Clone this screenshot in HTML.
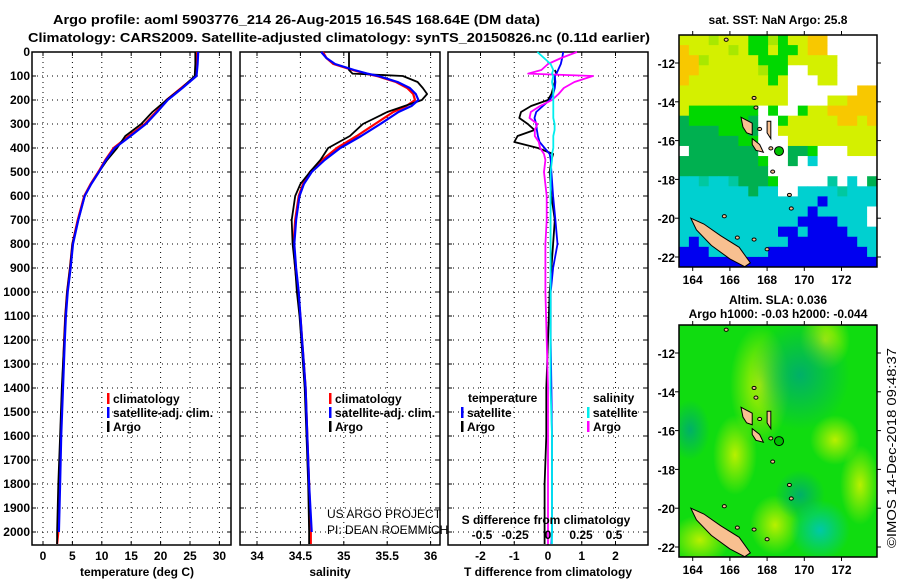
<!DOCTYPE html>
<html><head><meta charset="utf-8">
<style>
html,body{margin:0;padding:0;background:#fff;}
svg{display:block;font-family:"Liberation Sans",sans-serif;}
.b{font-weight:bold;font-size:13px;}
.lab{font-weight:bold;font-size:12px;}
</style></head>
<body>
<svg id="chart" width="900" height="580" viewBox="0 0 900 580" xmlns="http://www.w3.org/2000/svg">
<text class="b" x="53" y="24" textLength="487" lengthAdjust="spacingAndGlyphs">Argo profile: aoml 5903776_214 26-Aug-2015 16.54S 168.64E (DM data)</text>
<text class="b" x="28" y="42" textLength="622" lengthAdjust="spacingAndGlyphs">Climatology: CARS2009. Satellite-adjusted climatology: synTS_20150826.nc (0.11d earlier)</text>
<g id="panels"></g>
<g id="maps"></g>
<text class="b" x="0" y="0" transform="translate(896,548) rotate(-90)" textLength="200" lengthAdjust="spacingAndGlyphs" style="font-weight:normal">©IMOS 14-Dec-2018 09:48:37</text>
</svg>
<script>
// ---- data ----
const tDepths = [0,50,100,150,200,250,300,350,400,450,500,550,600,700,800,900,1000,1100,1200,1400,1600,1800,2000,2050];
const tempClim = [26.2,26.1,26.0,23.5,21.0,19.2,17.3,14.6,12.0,10.6,9.4,8.1,7.0,5.9,5.0,4.6,4.1,3.8,3.6,3.3,3.0,2.8,2.6,2.4];
const tempSat  = [26.4,26.3,26.1,23.7,21.2,19.4,17.5,14.9,12.2,10.7,9.5,8.2,7.1,6.0,5.1,4.7,4.2,3.9,3.7,3.4,3.1,2.9,2.7,2.7];
const tempArgo = [25.9,25.9,25.8,23.6,21.0,18.6,16.7,14.0,12.6,10.9,9.5,8.2,7.1,6.0,5.0,4.6,4.1,3.8,3.6,3.2,2.9,2.6,2.4,2.4];
const sDepths = [0,25,50,75,90,100,125,150,175,200,225,250,300,350,400,450,500,550,600,700,800,900,1000,1100,1200,1400,1600,1800,2000,2050];
const salClim = [34.76,34.8,34.88,35.1,35.25,35.38,35.6,35.73,35.8,35.82,35.72,35.57,35.36,35.15,34.92,34.75,34.61,34.53,34.48,34.44,34.42,34.44,34.47,34.5,34.52,34.56,34.58,34.6,34.62,34.62];
const salSat  = [34.74,34.8,34.9,35.12,35.27,35.4,35.62,35.76,35.83,35.86,35.78,35.63,35.42,35.2,34.96,34.78,34.63,34.54,34.49,34.45,34.43,34.45,34.48,34.5,34.52,34.56,34.58,34.6,34.63,34.63];
const salArgo = [35.06,35.06,35.06,35.06,35.1,35.68,35.85,35.91,35.96,35.9,35.7,35.5,35.22,35.07,34.82,34.73,34.61,34.5,34.44,34.4,34.41,34.44,34.46,34.49,34.51,34.55,34.57,34.59,34.6,34.6];
const dDepths = [0,25,50,75,90,100,125,150,175,200,225,250,275,300,325,350,375,400,425,450,500,600,700,800,900,1000,1200,1400,1600,1800,2000,2050];
const dTArgo = [0.1,0.15,0.15,0.2,0.25,0.2,0.2,0.15,0.1,0,-0.5,-0.8,-0.85,-0.6,-0.4,-0.9,-1.0,-0.3,0.15,0.1,0.05,0.1,0.2,0.15,0.1,0.05,0,-0.05,-0.05,-0.1,-0.1,-0.1];
const dTSat  = [0.45,0.42,0.38,0.3,0.25,0.2,0.22,0.2,0.15,0.05,-0.15,-0.35,-0.4,-0.35,-0.33,-0.3,-0.25,-0.1,0.05,0.08,0.1,0.15,0.22,0.28,0.15,0.08,0.08,0.1,0.12,0.12,0.12,0.1];
const dSArgo = [0.22,0.1,0.0,-0.05,-0.15,0.34,0.2,0.12,0.08,0.03,-0.06,-0.13,-0.14,-0.08,-0.1,-0.1,-0.07,-0.06,-0.03,-0.02,-0.03,-0.01,-0.01,-0.02,-0.02,-0.02,-0.01,0,0,0,0,0];
const dSSat  = [-0.08,-0.03,0.02,0.04,0.03,0.04,0.03,0.04,0.04,0.04,0.04,0.04,0.04,0.05,0.05,0.04,0.04,0.04,0.03,0.03,0.02,0.02,0.02,0.02,0.02,0.02,0.02,0.02,0.03,0.03,0.03,0.03];
const depthTicks = [0,100,200,300,400,500,600,700,800,900,1000,1100,1200,1300,1400,1500,1600,1700,1800,1900,2000];
const tempTicks = [0,5,10,15,20,25,30];
const salTicks = [34,34.5,35,35.5,36];
const dTTicks = [-2,-1,0,1,2];
const dSTicks = [-0.5,-0.25,0,0.25,0.5];
const dSTickLabels = ["-0.5","-0.25","0","0.25","0.5"];

const NS="http://www.w3.org/2000/svg";
const Y0=52, Y1=545;
const yD = d => Y0 + d*0.24;
const xT = t => 43 + t*5.88;
const xS = s => 257 + (s-34)*86.8;
const xDT = v => 548 + v*33.75;
const xDS = v => 548 + v*132;
const panels=document.getElementById('panels');
function el(tag,attrs,parent,text){const e=document.createElementNS(NS,tag);for(const k in attrs)e.setAttribute(k,attrs[k]);if(text!==undefined)e.textContent=text;(parent||panels).appendChild(e);return e;}

function panel(name,x0,x1,xTicksArr,xf,labels){
  const g=el('g',{});
  
  
  depthTicks.forEach(d=>{ if(d>0) el('line',{x1:x0,x2:x1,y1:yD(d),y2:yD(d),stroke:'#000','stroke-width':1,'stroke-dasharray':'1,4'},g);
    el('line',{x1:x0,x2:x0+4,y1:yD(d),y2:yD(d),stroke:'#000'},g); el('line',{x1:x1-4,x2:x1,y1:yD(d),y2:yD(d),stroke:'#000'},g);});
  xTicksArr.forEach((t,i)=>{const x=xf(t);
    el('line',{x1:x,x2:x,y1:Y0,y2:Y1,stroke:'#000','stroke-width':1,'stroke-dasharray':'1,4'},g);
    el('line',{x1:x,x2:x,y1:Y0,y2:Y0+4,stroke:'#000'},g);el('line',{x1:x,x2:x,y1:Y1-4,y2:Y1,stroke:'#000'},g);
    const tx=el('text',{x:x,y:560,'text-anchor':'middle',class:'lab'},g,labels?labels[i]:String(t));
    
    
  });
  el('rect',{x:x0,y:Y0,width:x1-x0,height:Y1-Y0,fill:'none',stroke:'#000','stroke-width':1.5},g);
  return g;
}
function line(g,name,xs,ds,xf,color,w){
  const pts=xs.map((v,i)=>xf(v).toFixed(1)+','+yD(ds[i]).toFixed(1)).join(' ');
  const p=el('polyline',{points:pts,fill:'none',stroke:color,'stroke-width':w||2.2,'stroke-linejoin':'round'},g);
  
  
}
function txt(g,name,x,y,s,opts){const t=el('text',Object.assign({x:x,y:y,class:'lab'},opts||{}),g,s);
  
  return t;}
function leg(g,x,y,color,label,name){el('rect',{x:x,y:y-10,width:2.5,height:11,fill:color},g);txt(g,name,x+6,y,label);}

const ya=el('g',{});


depthTicks.forEach(d=>{txt(ya,'depth-tick-label',30,yD(d)+4,String(d),{'text-anchor':'end'});});

const p1=panel('temperature-panel',32,231,tempTicks,xT);
line(p1,'temp-climatology-line',tempClim,tDepths,xT,'#f00');
line(p1,'temp-argo-line',tempArgo,tDepths,xT,'#000',1.8);
line(p1,'temp-satellite-line',tempSat.slice(0,23),tDepths.slice(0,23),xT,'#00f');
txt(p1,'temperature-axis-title',137,576,'temperature (deg C)',{'text-anchor':'middle'});
leg(p1,107,403,'#f00','climatology','legend-climatology');
leg(p1,107,417,'#00f','satellite-adj. clim.','legend-satellite');
leg(p1,107,431,'#000','Argo','legend-argo');

const p2=panel('salinity-panel',240,440,salTicks,xS);
line(p2,'sal-climatology-line',salClim,sDepths,xS,'#f00');
line(p2,'sal-argo-line',salArgo,sDepths,xS,'#000',1.8);
line(p2,'sal-satellite-line',salSat.slice(0,29),sDepths.slice(0,29),xS,'#00f');
txt(p2,'salinity-axis-title',330,576,'salinity',{'text-anchor':'middle'});
leg(p2,329,403,'#f00','climatology','legend-climatology');
leg(p2,329,417,'#00f','satellite-adj. clim.','legend-satellite');
leg(p2,329,431,'#000','Argo','legend-argo');
txt(p2,'project-credit',327,518,'US ARGO PROJECT',{style:'font-weight:normal;font-size:12px'});
txt(p2,'pi-credit',327,534,'PI: DEAN ROEMMICH',{style:'font-weight:normal;font-size:12px'});

const p3=panel('difference-panel',448,648,dTTicks,xDT);
line(p3,'dT-argo-line',dTArgo.slice(3),dDepths.slice(3),xDT,'#000',1.8);
line(p3,'dT-satellite-line',dTSat,dDepths,xDT,'#00f',1.8);
line(p3,'dS-argo-line',dSArgo,dDepths,xDS,'#f0f',1.8);
line(p3,'dS-satellite-line',dSSat,dDepths,xDS,'#0ee',1.8);
txt(p3,'T-difference-axis-title',548,576,'T difference from climatology',{'text-anchor':'middle'});
txt(p3,'S-difference-title',546,524,'S difference from climatology',{'text-anchor':'middle'});
dSTicks.forEach((v,i)=>txt(p3,'s-tick-label',xDS(v),539,dSTickLabels[i],{'text-anchor':'middle'}));
txt(p3,'legend-temperature-head',468,402,'temperature');
leg(p3,461,417,'#00f','satellite','legend-t-satellite');
leg(p3,461,431,'#000','Argo','legend-t-argo');
txt(p3,'legend-salinity-head',593,402,'salinity');
leg(p3,587,417,'#0ee','satellite','legend-s-satellite');
leg(p3,587,431,'#f0f','Argo','legend-s-argo');

// ---- maps ----
const maps=document.getElementById('maps');
const MX0=679,MX1=877;
const lonX = lon => 692.7+(lon-164)*18.6;
function latY(top){return lat=> top + 28 + (-12-lat)*19.4;}
const colors={y:'#d4f000',o:'#f8c800',g:'#00d800',d:'#00b050',c:'#00d0d0',t:'#00c8a0',b:'#0000f0',w:'#ffffff',m:'#a8e800'};
const sstRows=[
"yyymyyyggmgyyoowwwww",
"oyyyymyggyggyoowwwww",
"oomyyyyygggyyyyywwww",
"ooyyyyyymggwwyyywwww",
"oyyyyyyyygywwwyywwww",
"yyyyyyyyyyywwwwwwwoo",
"yyyyyyyyyyywwwwyyooo",
"ygggggggwgwwgyyooooo",
"dggggggdwwgyyyyyooyo",
"ddddgggdwwyyyyyyyyyy",
"ddddddggwwwyyyyyyyyy",
"wdddddddwwwddgwwwyyy",
"ddddddddgwwdwcwwwwww",
"dddddddddwwwwwwwwwww",
"cctcctdddgwwwwwtwcwd",
"cccccccdccwwcccctccc",
"ccccccccccccccbccccc",
"cccccccccccccbcccccw",
"ccccccccccccbbbbcccw",
"ccccccccccbbcbbbbccc",
"cbcccccccccbbbbbbbcc",
"bbbccccccbbbbbbbbbbc",
"bbbbbbbbbbbbbbbbbbbb"];
function drawMap(name,top,fillFn,titles){
  const g=el('g',{},maps);
  
  
  const H=232;
  const cp=el('clipPath',{id:name+'-clip'},g);el('rect',{x:MX0,y:top,width:MX1-MX0,height:H},cp);
  const inner=el('g',{'clip-path':'url(#'+name+'-clip)'},g);
  fillFn(inner,top,H);
  const ly=latY(top);
  const land={fill:'#f8c090',stroke:'#000','stroke-width':1};
  el('polygon',Object.assign({points:[[163.9,-20.0],[164.6,-20.3],[165.5,-20.9],[166.5,-21.5],[167.1,-22.3],[166.8,-22.5],[166.0,-22.1],[165.0,-21.4],[164.2,-20.6]].map(p=>lonX(p[0])+','+ly(p[1])).join(' ')},land),inner);
  el('polygon',Object.assign({points:[[166.6,-14.8],[167.2,-15.1],[167.2,-15.7],[166.9,-15.6],[166.7,-15.3]].map(p=>lonX(p[0])+','+ly(p[1])).join(' ')},land),inner);
  el('polygon',Object.assign({points:[[167.2,-15.9],[167.6,-16.2],[167.8,-16.6],[167.4,-16.5],[167.2,-16.2]].map(p=>lonX(p[0])+','+ly(p[1])).join(' ')},land),inner);
  el('polygon',Object.assign({points:[[168.0,-15.0],[168.2,-15.0],[168.2,-15.9],[168.0,-15.6]].map(p=>lonX(p[0])+','+ly(p[1])).join(' ')},land),inner);
  [[168.2,-16.4],[168.3,-17.6],[169.2,-18.8],[169.3,-19.5],[167.3,-21.1],[168.0,-21.6],[167.6,-15.4],[166.4,-21.0],[165.7,-19.9],[167.4,-14.3],[167.3,-13.8],[165.8,-10.8]].forEach(p=>{
    el('ellipse',Object.assign({cx:lonX(p[0]),cy:ly(p[1]),rx:2,ry:1.6,'stroke-width':0.8},land),inner);});
  el('circle',{cx:lonX(168.64),cy:ly(-16.54),r:4.5,fill:'#00c000',stroke:'#000','stroke-width':1},inner);
  el('rect',{x:MX0,y:top,width:MX1-MX0,height:H,fill:'none',stroke:'#000','stroke-width':1.5},g);
  [164,166,168,170,172].forEach(l=>{const x=lonX(l);
    el('line',{x1:x,x2:x,y1:top,y2:top-4,stroke:'#000'},g);el('line',{x1:x,x2:x,y1:top+H,y2:top+H+4,stroke:'#000'},g);
    txt(g,'lon-tick-label',x,top+H+17,String(l),{'text-anchor':'middle'});});
  [-12,-14,-16,-18,-20,-22].forEach(l=>{const y=ly(l);
    el('line',{x1:MX0,x2:MX0-4,y1:y,y2:y,stroke:'#000'},g);el('line',{x1:MX1,x2:MX1+4,y1:y,y2:y,stroke:'#000'},g);
    txt(g,'lat-tick-label',675,y+5,String(l),{'text-anchor':'end'});});
  titles.forEach(t=>txt(g,'map-title',778,t[1],t[0],{'text-anchor':'middle'}));
}
drawMap('sst-map',35,(g,top,H)=>{
  const cw=(MX1-MX0)/20,ch=H/sstRows.length;
  sstRows.forEach((r,i)=>{for(let j=0;j<20;j++){el('rect',{x:MX0+j*cw,y:top+i*ch,width:cw+0.5,height:ch+0.5,fill:colors[r[j]]},g);}});
},[['sat. SST: NaN Argo: 25.8',24]]);
drawMap('sla-map',325,(g,top,H)=>{
  const defs=el('defs',{},g);
  const mk=(id,c)=>{const rg=el('radialGradient',{id:id},defs);el('stop',{offset:'0','stop-color':c,'stop-opacity':1},rg);el('stop',{offset:'1','stop-color':c,'stop-opacity':0},rg);};
  mk('gy','#b8f000');mk('gd','#00b068');mk('gc','#00c8a8');
  el('rect',{x:MX0,y:top,width:MX1-MX0,height:H,fill:'#10dc10'},g);
  [['gy',760,top+60,30,60],['gy',735,top+130,22,40],['gy',835,top+115,25,25],['gy',825,top+15,25,30],['gy',700,top+215,30,25],['gy',775,top+200,25,30],['gy',860,top+160,20,40],
   ['gd',800,top+50,50,55],['gd',690,top+105,20,30],['gd',800,top+170,25,25],['gc',820,top+205,30,30]].forEach(b=>
    el('ellipse',{cx:b[1],cy:b[2],rx:b[3],ry:b[4],fill:'url(#'+b[0]+')'},g));
},[['Altim. SLA: 0.036',304],['Argo h1000: -0.03 h2000: -0.044',318]]);
</script>
</body></html>
